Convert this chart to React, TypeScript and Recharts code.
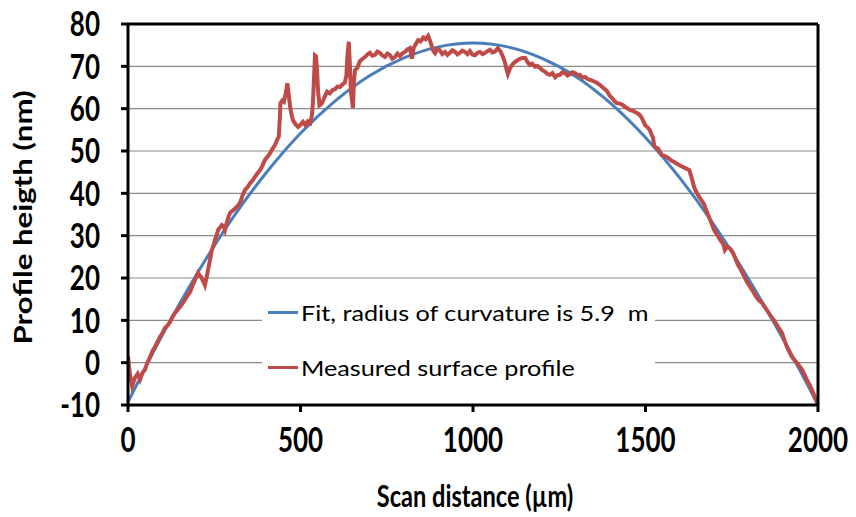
import React from 'react'
import { LineChart, Line, XAxis, YAxis, CartesianGrid, Legend } from 'recharts'

const fitX = [0, 100, 200, 300, 400, 500, 600, 700, 800, 900, 1000, 1100, 1200, 1300, 1400, 1500, 1600, 1700, 1800, 1900, 2000]
const fitY = [-9.3, 6.6, 21.0, 33.8, 44.8, 54.2, 61.8, 67.8, 72.0, 74.6, 75.5, 74.6, 71.9, 67.5, 61.2, 53.2, 43.6, 32.4, 19.6, 5.4, -10.0]

const measuredX = [
  0, 6, 12, 20, 28, 35, 42, 49, 56, 64, 71, 78, 86, 93, 100, 107, 115, 122, 129, 136,
  144, 151, 158, 165, 172, 180, 187, 194, 203, 208, 212, 218, 223, 228, 232, 238, 243, 248, 252, 257,
  261, 266, 272, 277, 281, 286, 291, 296, 303, 310, 318, 325, 332, 339, 346, 354, 361, 368, 375, 383,
  390, 397, 405, 412, 419, 426, 432, 437, 440, 442, 447, 452, 457, 462, 466, 470, 474, 478, 485, 493,
  500, 507, 514, 521, 528, 533, 536, 539, 542, 545, 548, 551, 555, 559, 563, 570, 577, 585, 593, 600,
  607, 614, 621, 628, 633, 636, 640, 643, 646, 652, 655, 658, 665, 672, 680, 687, 694, 701, 708, 716,
  723, 730, 738, 745, 752, 759, 766, 774, 781, 788, 796, 803, 810, 817, 823, 828, 834, 841, 848, 856,
  863, 870, 875, 880, 885, 890, 897, 904, 911, 919, 926, 933, 940, 948, 955, 962, 969, 977, 984, 991,
  998, 1006, 1013, 1020, 1028, 1035, 1042, 1049, 1056, 1064, 1072, 1080, 1087, 1093, 1098, 1101, 1107, 1113, 1121, 1130,
  1140, 1151, 1158, 1165, 1172, 1180, 1187, 1194, 1201, 1209, 1216, 1223, 1230, 1238, 1245, 1252, 1259, 1267, 1274, 1281,
  1288, 1296, 1303, 1310, 1318, 1325, 1332, 1339, 1346, 1354, 1361, 1368, 1378, 1388, 1396, 1403, 1410, 1417, 1426, 1435,
  1445, 1455, 1465, 1475, 1482, 1488, 1494, 1499, 1506, 1512, 1517, 1522, 1525, 1530, 1536, 1542, 1547, 1556, 1565, 1574,
  1583, 1595, 1607, 1617, 1627, 1634, 1641, 1648, 1656, 1663, 1670, 1677, 1684, 1692, 1699, 1706, 1713, 1720, 1725, 1730,
  1737, 1745, 1754, 1761, 1768, 1774, 1780, 1787, 1794, 1801, 1809, 1816, 1823, 1830, 1838, 1845, 1852, 1860, 1867, 1874,
  1881, 1888, 1896, 1903, 1910, 1918, 1925, 1932, 1939, 1947, 1954, 1961, 1968, 1976, 1983, 1990, 2000,
]
const measuredY = [
  1.5, -3.0, -5.5, -3.6, -2.6, -4.0, -2.4, -1.7, 0.0, 1.3, 2.8, 3.7, 5.0, 6.1, 7.0, 8.2, 8.8, 9.6, 10.8, 11.7,
  12.5, 13.2, 14.0, 14.8, 15.8, 16.7, 18.2, 19.5, 21.2, 20.6, 20.2, 19.2, 18.3, 20.2, 21.9, 24.4, 26.6, 27.8, 29.0, 30.1,
  31.3, 31.9, 32.5, 32.2, 31.3, 33.0, 34.4, 35.4, 35.9, 36.4, 37.0, 37.8, 39.5, 40.8, 41.4, 42.4, 43.0, 43.9, 44.7, 45.5,
  46.6, 47.9, 48.7, 49.5, 50.5, 51.4, 52.6, 53.4, 57.5, 61.3, 61.9, 61.6, 63.6, 66.0, 63.2, 60.4, 58.6, 57.3, 56.4, 55.7,
  56.2, 56.9, 56.1, 57.0, 56.6, 58.4, 61.3, 67.0, 72.6, 72.4, 69.1, 64.0, 60.8, 61.0, 61.4, 62.8, 64.0, 63.6, 64.4, 64.6,
  65.2, 65.1, 65.7, 66.1, 67.8, 72.5, 75.8, 70.5, 64.0, 60.2, 66.5, 69.1, 69.7, 71.2, 71.8, 72.2, 72.8, 73.2, 72.5, 72.7,
  73.5, 73.2, 72.5, 72.2, 73.0, 72.7, 71.8, 72.2, 73.0, 72.4, 73.1, 73.4, 74.0, 74.3, 71.8, 74.3, 75.2, 76.2, 75.9, 76.8,
  76.4, 77.2, 76.2, 74.9, 73.6, 73.1, 74.1, 73.8, 72.9, 73.4, 72.7, 73.2, 73.8, 73.4, 72.8, 73.2, 73.7, 73.4, 72.9, 73.6,
  72.8, 72.6, 73.2, 73.4, 72.9, 73.2, 73.6, 73.9, 73.3, 73.5, 74.3, 73.5, 72.2, 70.8, 69.0, 68.2, 69.5, 70.3, 71.0, 71.5,
  71.9, 72.0, 71.0, 70.3, 70.6, 69.9, 70.1, 69.6, 69.1, 68.7, 68.2, 68.0, 68.4, 67.4, 67.9, 68.0, 68.6, 68.4, 67.8, 68.1,
  68.6, 68.4, 67.9, 68.0, 67.3, 67.5, 67.0, 66.8, 66.6, 66.3, 66.0, 65.6, 64.9, 64.2, 63.1, 62.5, 61.8, 61.3, 61.2, 60.8,
  60.2, 59.7, 59.4, 59.0, 58.6, 58.0, 57.0, 56.1, 55.6, 55.0, 54.0, 53.1, 51.3, 50.8, 50.6, 49.8, 49.1, 48.8, 48.4, 47.8,
  47.4, 46.8, 46.3, 45.9, 45.5, 43.6, 41.5, 40.2, 39.1, 38.3, 37.4, 35.8, 34.4, 32.8, 31.3, 30.4, 29.5, 28.6, 28.1, 26.6,
  27.4, 27.0, 25.9, 24.5, 23.1, 22.3, 21.4, 20.2, 19.1, 18.2, 17.2, 16.2, 15.3, 14.6, 14.1, 13.2, 12.4, 11.4, 10.6, 9.8,
  8.9, 8.0, 7.0, 5.2, 3.7, 2.4, 1.3, 0.6, 0.0, -0.9, -1.7, -2.8, -4.1, -5.3, -6.5, -8.0, -10.0,
]

const xTicks = [0, 500, 1000, 1500, 2000]
const xTopTicks = [0, 200, 400, 600, 800, 1000, 1200, 1400, 1600, 1800, 2000]
const yTicks = [-10, 0, 10, 20, 30, 40, 50, 60, 70, 80]

const FIT_NAME = 'Fit, radius of curvature is 5.9  m'
const MEASURED_NAME = 'Measured surface profile'

const fitData = fitX.map((x, i) => ({ x, y: fitY[i] }))
const measuredData = measuredX.map((x, i) => ({ x, y: measuredY[i] }))

// the source picture is stretched vertically, so the text is too
const STRETCH = 1.3
const FONT = 'Lato, "Liberation Sans", sans-serif'
const axisLine = { stroke: '#000', strokeWidth: 3 }
const tickLine = { stroke: '#000', strokeWidth: 3 }

function TallTick(props: any) {
  const { x, y, payload, textAnchor } = props
  return (
    <text
      transform={`translate(${x}, ${y}) scale(1, ${STRETCH})`}
      dy="0.36em"
      textAnchor={textAnchor}
      fill="#000"
      fontSize={26}
      fontWeight={700}
      fontFamily={FONT}
    >
      {payload.value}
    </text>
  )
}

function YTitle(props: any) {
  const vb = props.viewBox || { x: 0, y: 24, width: 120, height: 381 }
  const cx = vb.x + 15.5
  const cy = vb.y + vb.height / 2 + 3
  return (
    <text
      transform={`translate(${cx}, ${cy}) scale(1, ${STRETCH}) rotate(-90)`}
      dy="0.34em"
      textAnchor="middle"
      fill="#000"
      fontSize={24}
      fontWeight={700}
      fontFamily={FONT}
    >
      Profile heigth (nm)
    </text>
  )
}

function XTitle(props: any) {
  const vb = props.viewBox || { x: 120, y: 405, width: 690, height: 108 }
  return (
    <text
      transform={`translate(${vb.x + vb.width / 2 + 2}, ${vb.y + vb.height - 6}) scale(1, ${STRETCH})`}
      textAnchor="middle"
      fill="#000"
      fontSize={23.6}
      fontWeight={700}
      fontFamily={FONT}
    >
      Scan distance (µm)
    </text>
  )
}

function LegendBox() {
  const items = [
    { name: FIT_NAME, color: '#4a7ebb' },
    { name: MEASURED_NAME, color: '#be4b48' },
  ]
  return (
    <div
      style={{
        background: '#fff',
        width: '100%',
        height: '100%',
        fontFamily: FONT,
        fontSize: 21,
        color: '#000',
      }}
    >
      {items.map((it) => (
        <div key={it.name} style={{ display: 'flex', alignItems: 'center', height: 55, paddingLeft: 6 }}>
          <span style={{ display: 'inline-block', width: 30, height: 3, background: it.color, marginRight: 3 }} />
          <span style={{ whiteSpace: 'pre', display: 'inline-block', transform: 'scaleX(1.2)', transformOrigin: 'left center' }}>
            {it.name}
          </span>
        </div>
      ))}
    </div>
  )
}

export default function App() {
  return (
    <div style={{ width: 840, height: 513, marginTop: -8 }}>
      <LineChart width={840} height={513} margin={{ top: 24, right: 30, left: 0, bottom: 0 }}>
        <CartesianGrid vertical={false} stroke="#8a8a8a" strokeWidth={1.2} />
        <XAxis
          dataKey="x"
          type="number"
          domain={[0, 2000]}
          ticks={xTicks}
          allowDataOverflow
          height={108}
          axisLine={axisLine}
          tickLine={tickLine}
          tickSize={7}
          tickMargin={28}
          tick={<TallTick />}
          label={<XTitle />}
        />
        <XAxis
          xAxisId="top"
          orientation="top"
          mirror
          type="number"
          domain={[0, 2000]}
          ticks={xTopTicks}
          allowDataOverflow
          height={1}
          axisLine={axisLine}
          tickLine={{ stroke: '#000', strokeWidth: 2.5 }}
          tickSize={5}
          tick={false}
        />
        <YAxis
          type="number"
          domain={[-10, 80]}
          ticks={yTicks}
          allowDataOverflow
          width={120}
          axisLine={axisLine}
          tickLine={tickLine}
          tickSize={7}
          tickMargin={21}
          tick={<TallTick />}
          label={<YTitle />}
        />
        <YAxis
          yAxisId="right"
          orientation="right"
          mirror
          type="number"
          domain={[-10, 80]}
          ticks={yTicks}
          allowDataOverflow
          width={1}
          axisLine={axisLine}
          tickLine={{ stroke: '#000', strokeWidth: 2.5 }}
          tickSize={5}
          tick={false}
        />
        <Line
          data={fitData}
          dataKey="y"
          name={FIT_NAME}
          type="monotone"
          stroke="#4a7ebb"
          strokeWidth={3}
          dot={false}
          isAnimationActive={false}
        />
        <Line
          data={measuredData}
          dataKey="y"
          name={MEASURED_NAME}
          type="linear"
          stroke="#be4b48"
          strokeWidth={4}
          dot={false}
          isAnimationActive={false}
        />
        <Legend
          layout="vertical"
          align="center"
          verticalAlign="middle"
          wrapperStyle={{ left: 254, top: 285, width: 393, height: 112 }}
          content={<LegendBox />}
        />
      </LineChart>
    </div>
  )
}
